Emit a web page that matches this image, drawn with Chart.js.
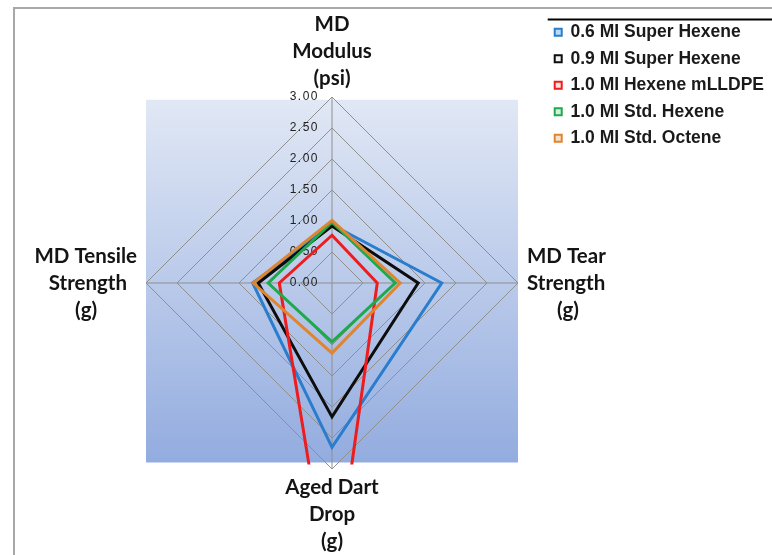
<!DOCTYPE html>
<html>
<head>
<meta charset="utf-8">
<script src="https://cdn.jsdelivr.net/npm/chart.js@4.4.0/dist/chart.umd.min.js"></script>
<style>
  html, body { margin: 0; padding: 0; background: #fff; }
  #wrap { position: relative; width: 772px; height: 555px; }
  #frame { position: absolute; left: 13px; top: 7px; right: 0; bottom: 0;
           border-left: 2px solid #a8a8a8; border-top: 2px solid #a8a8a8; pointer-events: none; }
</style>
</head>
<body>
<div id="wrap"><canvas id="radar" width="772" height="555"></canvas><div id="frame"></div></div>
<script>
// axes, clockwise from the top
const axisLabels = [
  ['MD', 'Modulus', '(psi)'],
  ['MD Tear', 'Strength', '(g)'],
  ['Aged Dart', 'Drop', '(g)'],
  ['MD Tensile', 'Strength', '(g)']
];
const seriesNames = ['0.6 MI Super Hexene', '0.9 MI Super Hexene', '1.0 MI Hexene mLLDPE', '1.0 MI Std. Hexene', '1.0 MI Std. Octene'];
const superHexene06 = [0.94, 1.77, 2.65, 1.28];
const superHexene09 = [0.92, 1.39, 2.16, 1.19];
const hexeneMLLDPE = [0.77, 0.73, 5.2, 0.85];
const stdHexene = [0.98, 1.02, 0.95, 1.03];
const stdOctene = [1.01, 1.10, 1.13, 1.27];
const tickValues = [0, 0.5, 1, 1.5, 2, 2.5, 3];
const tickLabels = ['0.00', '0.50', '1.00', '1.50', '2.00', '2.50', '3.00'];

const lineColors = ['#2a7dcc', '#0d0d0d', '#ee1c1c', '#1eaa4c', '#df8530'];
const boxFills = ['#bcdcf5', '#f2f2f2', '#fbe0e0', '#d6f0dd', '#f6e2cc'];
const labelFont = {family: 'Lato', weight: 'bold', size: 20.5, lineHeight: '27px'};

// chart.js aligns side labels left/right, the original centres each line
function centerLines(lines, align) {
  const c = document.createElement('canvas').getContext('2d');
  c.font = 'bold 20.5px Lato';
  const sp = c.measureText(' ').width;
  const widest = Math.max(...lines.map(l => c.measureText(l).width));
  return lines.map(l => {
    const pad = ' '.repeat(Math.round((widest - c.measureText(l).width) / 2 / sp));
    return align == 'right' ? l + pad : pad + l;
  });
}
const labels = axisLabels.map((l, i) => i == 1 ? centerLines(l, 'left') : i == 3 ? centerLines(l, 'right') : l);

function plotBox(r) {
  return {x: r.xCenter - r.drawingArea, y: r.yCenter - r.drawingArea * 0.985,
          w: r.drawingArea * 2, h: r.drawingArea * 1.95};
}

const decor = {
  id: 'decor',
  afterLayout(chart) {
    const lg = chart.legend;
    lg.left = chart.width - lg.width + 2;
    lg.right = lg.left + lg.width;
    lg.top = chart.chartArea.top + 3.5;
  },
  beforeDraw(chart) {
    const ctx = chart.ctx, b = plotBox(chart.scales.r);
    const g = ctx.createLinearGradient(0, b.y, 0, b.y + b.h);
    g.addColorStop(0, '#e1e8f5');
    g.addColorStop(1, '#93acdf');
    ctx.save();
    ctx.fillStyle = g;
    ctx.fillRect(b.x, b.y, b.w, b.h);
    ctx.restore();
  },
  beforeDatasetsDraw(chart) {
    const ctx = chart.ctx, r = chart.scales.r, b = plotBox(r);
    ctx.save();
    ctx.font = '12px "Liberation Sans"';
    ctx.letterSpacing = '1.5px';
    ctx.fillStyle = '#222';
    ctx.textAlign = 'right';
    ctx.textBaseline = 'middle';
    tickValues.forEach((v, i) => {
      ctx.fillText(tickLabels[i], r.xCenter - 13, r.yCenter - r.getDistanceFromCenterForValue(v));
    });
    ctx.restore();
    ctx.save();
    ctx.beginPath();
    ctx.rect(b.x, b.y, b.w, b.h + 2);
    ctx.clip();
  },
  afterDatasetsDraw(chart) {
    chart.ctx.restore();
  },
  afterDraw(chart) {
    const ctx = chart.ctx, lg = chart.legend;
    ctx.save();
    ctx.strokeStyle = '#000';
    ctx.lineWidth = 2;
    ctx.beginPath();
    ctx.moveTo(lg.left + 2, lg.top + 5);
    ctx.lineTo(chart.width, lg.top + 5);
    ctx.stroke();
    ctx.restore();
  }
};

const allSeries = [superHexene06, superHexene09, hexeneMLLDPE, stdHexene, stdOctene];

new Chart('radar', {
  type: 'radar',
  data: {
    labels: labels,
    datasets: allSeries.map((d, i) => ({
      label: seriesNames[i],
      data: d,
      borderColor: lineColors[i],
      backgroundColor: boxFills[i],
      borderWidth: 3,
      fill: false,
      pointRadius: 0,
      pointHitRadius: 0,
      order: allSeries.length - 1 - i
    }))
  },
  options: {
    responsive: false,
    animation: false,
    layout: {padding: {left: 0, right: 130, top: 11, bottom: 0}},
    elements: {line: {tension: 0}},
    scales: {
      r: {
        min: 0,
        max: 3,
        ticks: {display: false, stepSize: 0.5},
        grid: {color: '#8f8f8f', lineWidth: 1},
        angleLines: {color: '#8f8f8f', lineWidth: 1},
        pointLabels: {
          font: labelFont,
          color: '#141414',
          padding: c => c.index % 2 ? 9 : 5
        }
      }
    },
    plugins: {
      tooltip: {enabled: false},
      legend: {
        position: 'chartArea',
        align: 'start',
        labels: {
          font: {family: 'Liberation Sans', weight: 'bold', size: 17.5},
          color: '#1a1a1a',
          boxWidth: 7,
          boxHeight: 7,
          padding: 9,
          sort: (a, b) => a.datasetIndex - b.datasetIndex,
          generateLabels: chart => Chart.defaults.plugins.legend.labels.generateLabels(chart)
            .map(it => Object.assign(it, {lineWidth: 2}))
        }
      }
    }
  },
  plugins: [decor]
});
</script>
</body>
</html>
